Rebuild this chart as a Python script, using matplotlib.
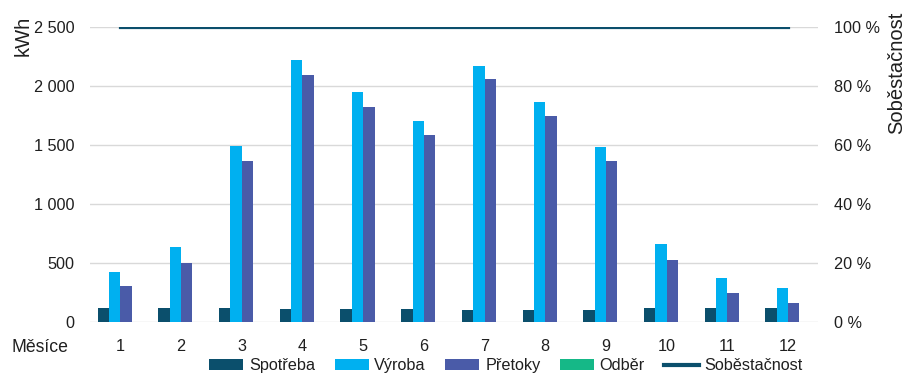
import numpy as np
import matplotlib.pyplot as plt
from matplotlib.ticker import FuncFormatter, MultipleLocator
from matplotlib.patches import Patch
from matplotlib.lines import Line2D

plt.rcParams['font.family'] = ['Liberation Sans', 'DejaVu Sans']

# Monthly energy balance (kWh)
mesice = np.arange(1, 13)
spotreba = [121, 121, 121, 110, 110, 110, 102, 102, 102, 121, 121, 121]
vyroba = [424, 636, 1489, 2220, 1952, 1706, 2170, 1867, 1480, 661, 376, 291]
pretoky = [302, 500, 1362, 2096, 1825, 1588, 2062, 1749, 1362, 528, 249, 164]
odber = [0, 0, 0, 0, 0, 0, 0, 0, 0, 0, 0, 0]
sobestacnost = [1.0] * 12

serie = [('Spotřeba', spotreba, '#0B4F6C'),
         ('Výroba', vyroba, '#00B0F0'),
         ('Přetoky', pretoky, '#4A5BA8'),
         ('Odběr', odber, '#15B887')]
line_color = '#0B4F6C'
text_color = '#1F1F1F'
fs = 11.7

fig = plt.figure(figsize=(9.05, 3.76), dpi=100)
ax = fig.add_axes([0.0994, 0.1436, 0.8050, 0.7846])

w = 0.187
for i, (name, vals, col) in enumerate(serie):
    ax.bar(mesice + (i - 1.5) * w, vals, width=w, color=col, zorder=3)

ax.set_xlim(0.5, 12.5)
ax.set_ylim(0, 2500)
ax.yaxis.set_major_locator(MultipleLocator(500))
ax.yaxis.set_major_formatter(FuncFormatter(lambda v, p: f'{int(v):,}'.replace(',', ' ')))
ax.set_xticks(mesice)
ax.grid(axis='y', color='#D9D9D9', linewidth=1, zorder=0)
for s in ax.spines.values():
    s.set_visible(False)
ax.tick_params(axis='both', length=0, labelsize=fs, colors=text_color)
ax.tick_params(axis='y', pad=11)
ax.tick_params(axis='x', pad=12)

ax2 = ax.twinx()
ax2.plot(mesice, sobestacnost, color=line_color, linewidth=2.3, zorder=4)
ax2.set_ylim(0, 1)
ax2.yaxis.set_major_locator(MultipleLocator(0.2))
ax2.yaxis.set_major_formatter(FuncFormatter(lambda v, p: f'{round(v * 100)} %'))
for s in ax2.spines.values():
    s.set_visible(False)
ax2.tick_params(axis='y', length=0, labelsize=fs, colors=text_color, pad=11)

fig.text(0.026, 0.905, 'kWh', rotation=90, ha='center', va='center',
         fontsize=14.5, color=text_color)
fig.text(0.991, 0.806, 'Soběstačnost', rotation=90, ha='center', va='center',
         fontsize=14.5, color=text_color)
fig.text(0.013, 0.077, 'Měsíce', ha='left', va='center',
         fontsize=12.7, color=text_color)

handles = [Patch(facecolor=c, label=n) for n, _, c in serie]
handles.append(Line2D([], [], color=line_color, linewidth=3, label='Soběstačnost'))
fig.legend(handles=handles, loc='center', bbox_to_anchor=(0.559, 0.027), ncol=5,
           frameon=False, fontsize=fs, handlelength=2.1, handleheight=0.65,
           handletextpad=0.35, columnspacing=1.2, labelcolor=text_color,
           borderpad=0, borderaxespad=0)

fig.savefig('out.png', dpi=100)
